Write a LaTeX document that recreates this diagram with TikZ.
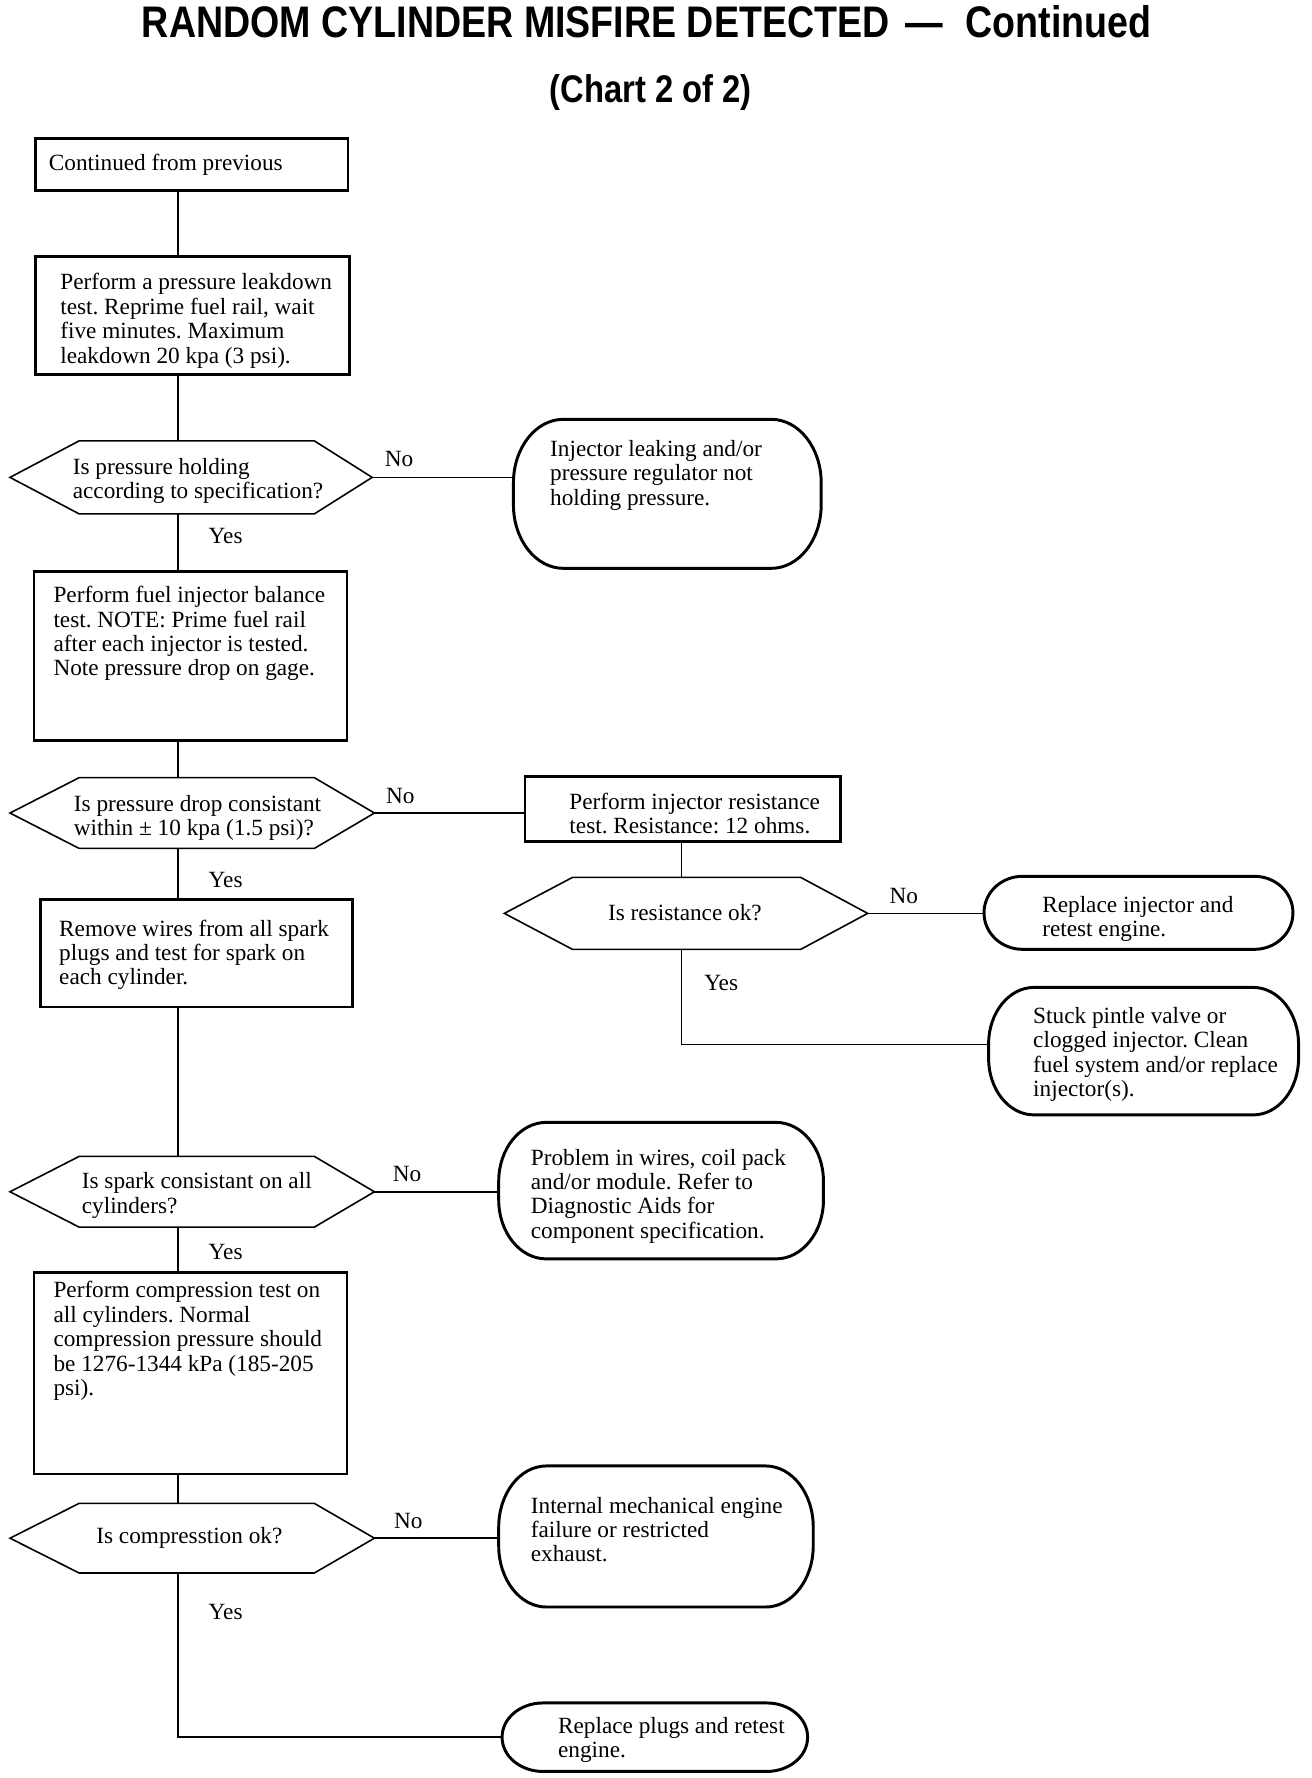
\documentclass[tikz,border=0pt]{standalone}
\usepackage{fontspec}
\setmainfont{Liberation Serif}
\newfontfamily\titlefont[FakeStretch=0.85]{Liberation Sans}
\newcommand\bodyfont{\fontsize{20.5}{21.5}\selectfont}
\newcommand\hexdraw[3]{\draw[hexline] (#1.west) -- ([xshift=#2pt]#1.north west) -- ([xshift=-#3pt]#1.north east) -- (#1.east) -- ([xshift=-#3pt]#1.south east) -- ([xshift=#2pt]#1.south west) -- cycle;}
\newcommand\termdraw[3]{\draw[termline] ([xshift=#2pt]#1.north west) -- ([xshift=-#2pt]#1.north east) arc[start angle=90, end angle=0, x radius=#2pt, y radius=#3pt] -- ([yshift=#3pt]#1.south east) arc[start angle=0, end angle=-90, x radius=#2pt, y radius=#3pt] -- ([xshift=#2pt]#1.south west) arc[start angle=-90, end angle=-180, x radius=#2pt, y radius=#3pt] -- ([yshift=-#3pt]#1.north west) arc[start angle=180, end angle=90, x radius=#2pt, y radius=#3pt] -- cycle;}
\begin{document}
\frenchspacing
\begin{tikzpicture}[x=1pt,y=-1pt,
  stepbox/.style={draw, line width=2.4pt, rectangle, inner sep=0pt},
  termbox/.style={draw=none, rectangle, inner sep=0pt},
  termline/.style={line width=2.6pt, line join=round},
  hexbox/.style={draw=none, rectangle, inner sep=0pt},
  hexline/.style={line width=1.4pt, line join=miter},
  conn/.style={line width=1.3pt},
  txt/.style={inner sep=0pt, anchor=north west, align=left, font=\bodyfont},
  lbl/.style={inner sep=0pt, anchor=center, font=\bodyfont}]
\useasboundingbox (0,0) rectangle (1157,1568);
\fill[white] (0,0) rectangle (1157,1568);

% titles
\node[inner sep=0pt, anchor=west, font={\titlefont\bfseries\fontsize{39}{41}\selectfont}] (title) at (125,19) {RANDOM CYLINDER MISFIRE DETECTED\hspace{14pt}—\hspace{20pt}Continued};
\node[inner sep=0pt, font={\titlefont\bfseries\fontsize{34}{36}\selectfont}] (chart) at (574,82) {(Chart 2 of 2)};

\coordinate (X) at (157,0);
\coordinate (Y) at (601,0);

% shapes
\node[stepbox, minimum width=276pt, minimum height=46pt] (b1) at (169,145) {};
\node[stepbox, minimum width=277pt, minimum height=104pt] (b2) at (169.5,278) {};
\node[hexbox, minimum width=319pt, minimum height=64pt] (d1) at (168.5,421) {};
\node[termbox, minimum width=271pt, minimum height=131pt] (t1) at (588.5,435.5) {};
\node[stepbox, minimum width=276pt, minimum height=149pt] (b3) at (168,578.5) {};
\node[hexbox, minimum width=321pt, minimum height=62pt] (d2) at (169.5,717) {};
\node[stepbox, minimum width=278pt, minimum height=57pt] (b4) at (602,713.5) {};
\node[hexbox, minimum width=320pt, minimum height=63pt] (d3) at (605,805.5) {};
\node[termbox, minimum width=272pt, minimum height=64pt] (t2) at (1004,805) {};
\node[termbox, minimum width=273pt, minimum height=112pt] (t3) at (1008.5,927) {};
\node[stepbox, minimum width=275pt, minimum height=95pt] (b5) at (173.5,840.5) {};
\node[hexbox, minimum width=321pt, minimum height=62pt] (d4) at (169.5,1051) {};
\node[termbox, minimum width=286pt, minimum height=120pt] (t4) at (583,1050) {};
\node[stepbox, minimum width=276pt, minimum height=178pt] (b6) at (168,1211) {};
\node[hexbox, minimum width=321pt, minimum height=61pt] (d5) at (169.5,1356.5) {};
\node[termbox, minimum width=277pt, minimum height=124pt] (t5) at (578.5,1355) {};
\node[termbox, minimum width=269pt, minimum height=60pt] (t6) at (577.5,1532) {};

\hexdraw{d1}{61}{51}
\hexdraw{d2}{61}{53}
\hexdraw{d3}{60}{59}
\hexdraw{d4}{61}{53}
\hexdraw{d5}{61}{53}

\termdraw{t1}{44}{56}
\termdraw{t2}{34}{32}
\termdraw{t3}{40}{50}
\termdraw{t4}{42}{52}
\termdraw{t5}{42}{54}
\termdraw{t6}{36}{30}

% texts
\node[txt] (b1t) at (43,136) {Continued from previous};
\node[txt] (b2t) at (53,241) {Perform a pressure leakdown\\test. Reprime fuel rail, wait\\five minutes. Maximum\\leakdown 20 kpa (3 psi).};
\node[txt] (d1t) at (64,404) {Is pressure holding\\according to specification?};
\node[txt] (t1t) at (485,388) {Injector leaking and/or\\pressure regulator not\\holding pressure.};
\node[txt] (b3t) at (47,517) {Perform fuel injector balance\\test. NOTE: Prime fuel rail\\after each injector is tested.\\Note pressure drop on gage.};
\node[txt] (d2t) at (65,701) {Is pressure drop consistant\\within ± 10 kpa (1.5 psi)?};
\node[txt] (b4t) at (502,699) {Perform injector resistance\\test. Resistance: 12 ohms.};
\node[lbl] (d3t) at (604,805) {Is resistance ok?};
\node[txt] (t2t) at (919,790) {Replace injector and\\retest engine.};
\node[txt] (t3t) at (911,888) {Stuck pintle valve or\\clogged injector. Clean\\fuel system and/or replace\\injector(s).};
\node[txt] (b5t) at (52,811) {Remove wires from all spark\\plugs and test for spark on\\each cylinder.};
\node[txt] (d4t) at (72,1034) {Is spark consistant on all\\cylinders?};
\node[txt] (t4t) at (468,1013) {Problem in wires, coil pack\\and/or module. Refer to\\Diagnostic Aids for\\component specification.};
\node[txt] (b6t) at (47,1130) {Perform compression test on\\all cylinders. Normal\\compression pressure should\\be 1276-1344 kPa (185-205\\psi).};
\node[lbl] (d5t) at (167,1356) {Is compresstion ok?};
\node[txt] (t5t) at (468,1320) {Internal mechanical engine\\failure or restricted\\exhaust.};
\node[txt] (t6t) at (492,1514) {Replace plugs and retest\\engine.};

% connectors
\draw[conn] (b1.south -| X) -- (b2.north -| X);
\draw[conn] (b2.south -| X) -- (d1.north -| X);
\draw[conn] (d1.east) -- (d1.east -| t1.west);
\draw[conn] (d1.south -| X) -- (b3.north -| X);
\draw[conn] (b3.south -| X) -- (d2.north -| X);
\draw[conn] (d2.east) -- (d2.east -| b4.west);
\draw[conn] (b4.south -| Y) -- (d3.north -| Y);
\draw[conn] (d3.east) -- (d3.east -| t2.west);
\draw[conn] (d3.south -| Y) |- ([yshift=6pt]t3.west);
\draw[conn] (d2.south -| X) -- (b5.north -| X);
\draw[conn] (b5.south -| X) -- (d4.north -| X);
\draw[conn] (d4.east) -- (d4.east -| t4.west);
\draw[conn] (d4.south -| X) -- (b6.north -| X);
\draw[conn] (b6.south -| X) -- (d5.north -| X);
\draw[conn] (d5.east) -- (d5.east -| t5.west);
\draw[conn] (d5.south -| X) |- (t6.west);

% labels
\node[lbl] (no1) at (352,405) {No};
\node[lbl] (no2) at (353,702) {No};
\node[lbl] (no3) at (797,790) {No};
\node[lbl] (no4) at (359,1035) {No};
\node[lbl] (no5) at (360,1341) {No};
\node[lbl] (yes1) at (199,473) {Yes};
\node[lbl] (yes2) at (199,776) {Yes};
\node[lbl] (yes3) at (636,867) {Yes};
\node[lbl] (yes4) at (199,1104) {Yes};
\node[lbl] (yes5) at (199,1422) {Yes};
\end{tikzpicture}
\end{document}
